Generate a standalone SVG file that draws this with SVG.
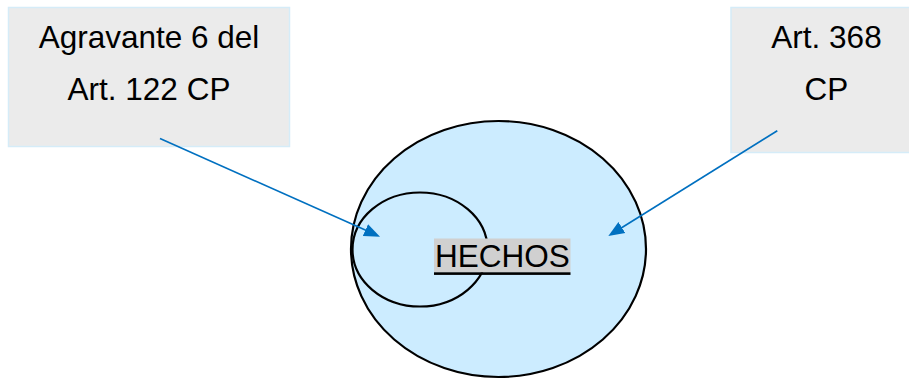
<svg xmlns="http://www.w3.org/2000/svg" width="909" height="379" viewBox="0 0 909 379">
  <style>
    .box { fill: #EBEBEB; stroke: #D5ECF8; stroke-width: 1.5; }
    .lbl { font-family: "Liberation Sans", Arial, sans-serif; font-size: 31.5px; fill: #000; text-anchor: middle; }
    .ell { stroke: #000; stroke-width: 2.2; }
    .conn { stroke: #0070C0; stroke-width: 1.6; fill: none; }
  </style>
  <defs>
    <marker id="arrow" markerUnits="userSpaceOnUse" markerWidth="17" markerHeight="14" refX="6" refY="6.5" orient="auto" viewBox="0 0 17 13">
      <path d="M0,0 L16,6.5 L0,13 z" fill="#0070C0"/>
    </marker>
  </defs>
  <rect width="909" height="379" fill="#FFFFFF"/>

  <g id="node-agravante">
    <rect class="box" x="8.5" y="7.5" width="281" height="139"/>
    <text class="lbl" x="149" y="48">Agravante 6 del</text>
    <text class="lbl" x="149" y="100">Art. 122 CP</text>
  </g>

  <g id="node-art368">
    <rect class="box" x="731" y="7.5" width="190" height="145"/>
    <text class="lbl" x="826.5" y="48">Art. 368</text>
    <text class="lbl" x="826.5" y="100">CP</text>
  </g>

  <g id="node-hechos">
    <ellipse class="ell" cx="498.5" cy="249" rx="147.5" ry="128" fill="#CCECFF"/>
    <ellipse class="ell" cx="420" cy="249.5" rx="67.5" ry="57" fill="none"/>
    <rect x="434" y="238.5" width="136.5" height="34" fill="#D0D0D0"/>
    <text class="lbl" x="502.3" y="267">HECHOS</text>
    <rect x="434" y="272.3" width="136.5" height="2.6" fill="#000"/>
  </g>

  <g id="connectors">
    <line class="conn" x1="160" y1="138.5" x2="370.9" y2="232.6" marker-end="url(#arrow)"/>
    <line class="conn" x1="777.3" y1="130.7" x2="616.8" y2="230.7" marker-end="url(#arrow)"/>
  </g>
</svg>
